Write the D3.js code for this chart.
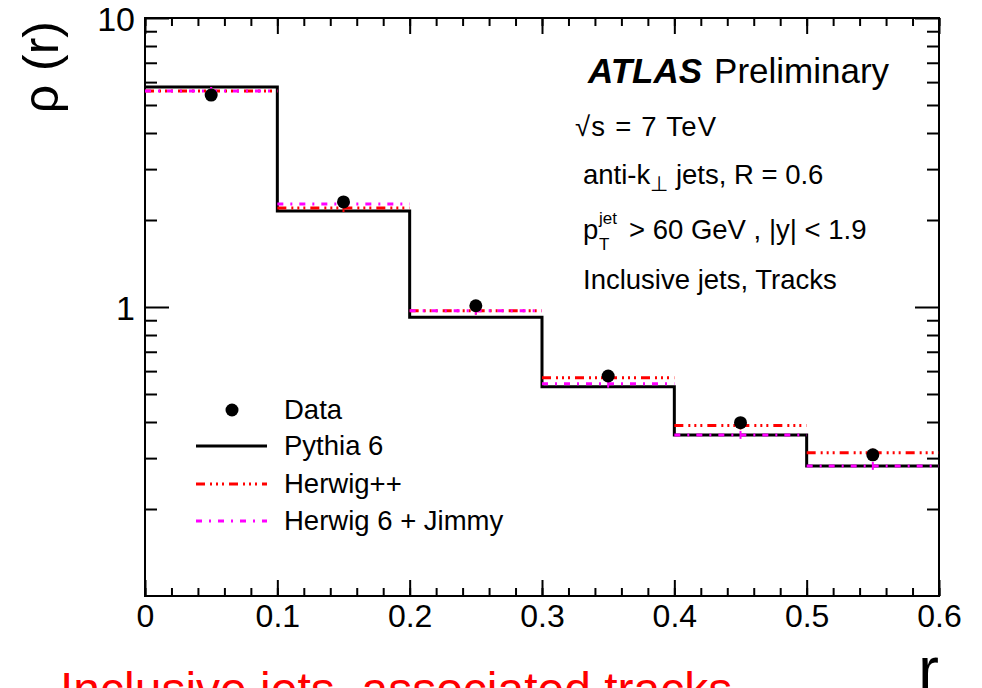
<!DOCTYPE html>
<html lang="en">
	<head>
		<meta charset="utf-8">
		<script src="https://d3js.org/d3.v7.min.js"></script>
		<style>
			body { margin: 0; background: #fff; }
			text { font-family: "Liberation Sans", Arial, sans-serif; fill: #000; }
		</style>
	</head>
	<body>
		<script type="text/javascript">

			//Width and height
			var w = 982;
			var h = 688;

			//Chart data (bins in r, values of rho(r))
			var binEdges = [0, 0.1, 0.2, 0.3, 0.4, 0.5, 0.6];
			var dataVals = [5.41, 2.31, 1.01, 0.577, 0.398, 0.308];
			var pythiaVals = [5.77, 2.15, 0.921, 0.530, 0.361, 0.282];
			var herwigppVals = [5.59, 2.20, 0.971, 0.569, 0.389, 0.313];
			var herwig6Vals = [5.59, 2.27, 0.971, 0.543, 0.361, 0.282];

			//Tick labels
			var xMajor = [0, 0.1, 0.2, 0.3, 0.4, 0.5, 0.6];
			var xMinor = d3.range(0, 61, 2).map(function(d) { return d / 100; });
			var yMajor = [1, 10];
			var yMinor = [0.2, 0.3, 0.4, 0.5, 0.6, 0.7, 0.8, 0.9, 2, 3, 4, 5, 6, 7, 8, 9];

			var legendNames = ["Data", "Pythia 6", "Herwig++", "Herwig 6 + Jimmy"];

			//Frame (plot area)
			var frameL = 145, frameR = 939, frameT = 18, frameB = 596;

			var x = d3.scaleLinear().domain([0, 0.6]).range([frameL, frameR]);
			var y = d3.scaleLog().domain([0.1, 10]).range([frameB, frameT]);

			var svg = d3.select("body")
						.append("svg")
						.attr("width", w)
						.attr("height", h);

			svg.append("rect")
				.attr("width", w)
				.attr("height", h)
				.style("fill", "#fff");

			function styleAxis(g) {
				g.select(".domain").remove();
				g.selectAll(".tick line").style("stroke", "#000").style("stroke-width", 2);
				g.selectAll("text").style("font-family", "Liberation Sans, Arial, sans-serif").style("fill", "#000");
			}

			//Bottom axis
			svg.append("g")
				.attr("transform", "translate(0," + frameB + ")")
				.call(d3.axisBottom(x).tickValues(xMinor).tickSize(-8).tickFormat(""))
				.call(styleAxis);
			svg.append("g")
				.attr("transform", "translate(0," + frameB + ")")
				.call(d3.axisBottom(x).tickValues(xMajor).tickSize(-16).tickPadding(8)
					.tickFormat(function(d) { return d === 0 ? "0" : d3.format(".1f")(d); }))
				.call(styleAxis)
				.selectAll("text").style("font-size", "32px");

			//Top axis
			svg.append("g")
				.attr("transform", "translate(0," + frameT + ")")
				.call(d3.axisTop(x).tickValues(xMinor).tickSize(-8).tickFormat(""))
				.call(styleAxis);
			svg.append("g")
				.attr("transform", "translate(0," + frameT + ")")
				.call(d3.axisTop(x).tickValues(xMajor).tickSize(-16).tickFormat(""))
				.call(styleAxis);

			//Left axis
			svg.append("g")
				.attr("transform", "translate(" + frameL + ",0)")
				.call(d3.axisLeft(y).tickValues(yMinor).tickSize(-12).tickFormat(""))
				.call(styleAxis);
			svg.append("g")
				.attr("transform", "translate(" + frameL + ",0)")
				.call(d3.axisLeft(y).tickValues(yMajor).tickSize(-24).tickPadding(10).tickFormat(d3.format("d")))
				.call(styleAxis)
				.selectAll("text").style("font-size", "34px").attr("dy", "0.36em");

			//Right axis
			svg.append("g")
				.attr("transform", "translate(" + frameR + ",0)")
				.call(d3.axisRight(y).tickValues(yMinor).tickSize(-12).tickFormat(""))
				.call(styleAxis);
			svg.append("g")
				.attr("transform", "translate(" + frameR + ",0)")
				.call(d3.axisRight(y).tickValues(yMajor).tickSize(-24).tickFormat(""))
				.call(styleAxis);

			//Frame box
			svg.append("rect")
				.attr("x", frameL)
				.attr("y", frameT)
				.attr("width", frameR - frameL)
				.attr("height", frameB - frameT)
				.style("fill", "none")
				.style("stroke", "#000")
				.style("stroke-width", 2);

			//Pythia histogram (solid step line)
			var stepPts = pythiaVals.map(function(v, i) { return [binEdges[i], v]; });
			stepPts.push([binEdges[binEdges.length - 1], pythiaVals[pythiaVals.length - 1]]);
			var step = d3.line()
						.x(function(d) { return x(d[0]); })
						.y(function(d) { return y(d[1]); })
						.curve(d3.curveStepAfter);
			svg.append("path")
				.datum(stepPts)
				.attr("d", step)
				.style("fill", "none")
				.style("stroke", "#000")
				.style("stroke-width", 3);

			//MC curves drawn per bin with small error crosses
			function drawMC(vals, color, dash) {
				var g = svg.append("g");
				g.selectAll("line.seg")
					.data(vals)
					.enter()
					.append("line")
					.attr("class", "seg")
					.attr("x1", function(d, i) { return x(binEdges[i]); })
					.attr("x2", function(d, i) { return x(binEdges[i + 1]); })
					.attr("y1", function(d) { return y(d); })
					.attr("y2", function(d) { return y(d); })
					.style("stroke", color)
					.style("stroke-width", 3)
					.style("stroke-dasharray", dash);
				g.selectAll("line.err")
					.data(vals)
					.enter()
					.append("line")
					.attr("class", "err")
					.attr("x1", function(d, i) { return x((binEdges[i] + binEdges[i + 1]) / 2); })
					.attr("x2", function(d, i) { return x((binEdges[i] + binEdges[i + 1]) / 2); })
					.attr("y1", function(d) { return y(d) - 4; })
					.attr("y2", function(d) { return y(d) + 4; })
					.style("stroke", color)
					.style("stroke-width", 2);
			}

			var dashRed = "9,5,2,4,2,4,2,5";
			var dashMag = "6,7,2,7";
			drawMC(herwigppVals, "#ff0000", dashRed);
			drawMC(herwig6Vals, "#ff00ff", dashMag);

			//Data points
			svg.selectAll("circle.data")
				.data(dataVals)
				.enter()
				.append("circle")
				.attr("class", "data")
				.attr("cx", function(d, i) { return x((binEdges[i] + binEdges[i + 1]) / 2); })
				.attr("cy", function(d) { return y(d); })
				.attr("r", 6.5)
				.style("fill", "#000");

			//Legend
			var legY = [410, 446, 484, 521];
			var leg = svg.append("g");
			leg.append("circle").attr("cx", 232).attr("cy", legY[0]).attr("r", 6.5).style("fill", "#000");
			leg.append("line").attr("x1", 196).attr("x2", 267).attr("y1", legY[1]).attr("y2", legY[1])
				.style("stroke", "#000").style("stroke-width", 3);
			leg.append("line").attr("x1", 196).attr("x2", 267).attr("y1", legY[2]).attr("y2", legY[2])
				.style("stroke", "#ff0000").style("stroke-width", 3).style("stroke-dasharray", dashRed);
			leg.append("line").attr("x1", 196).attr("x2", 267).attr("y1", legY[3]).attr("y2", legY[3])
				.style("stroke", "#ff00ff").style("stroke-width", 3).style("stroke-dasharray", dashMag);
			leg.selectAll("text")
				.data(legendNames)
				.enter()
				.append("text")
				.attr("x", 284)
				.attr("y", function(d, i) { return legY[i] - 1; })
				.attr("dy", "0.36em")
				.style("font-size", "27.5px")
				.text(function(d) { return d; });

			//ATLAS label and info text
			var atlas = svg.append("text").attr("x", 588).attr("y", 83).style("font-size", "35px");
			atlas.append("tspan").style("font-weight", "bold").style("font-style", "italic").text("ATLAS");
			atlas.append("tspan").attr("dx", 12).text("Preliminary");

			svg.append("text").attr("x", 575).attr("y", 136).style("font-size", "27.5px").text("\u221As = 7 TeV")
				.attr("textLength", 141);

			var ak = svg.append("text").attr("x", 583).attr("y", 184).style("font-size", "27.5px");
			ak.append("tspan").text("anti-k");
			ak.append("tspan").attr("dy", 7).style("font-size", "21px").text("\u22A5");
			ak.append("tspan").attr("dy", -7).text(" jets, R = 0.6");

			svg.append("text").attr("x", 583).attr("y", 239).style("font-size", "27.5px").text("p");
			svg.append("text").attr("x", 599).attr("y", 224).style("font-size", "17px").text("jet");
			svg.append("text").attr("x", 599).attr("y", 250).style("font-size", "17px").text("T");
			svg.append("text").attr("x", 629).attr("y", 239).style("font-size", "27.5px").text("> 60 GeV , |y| < 1.9");

			svg.append("text").attr("x", 583).attr("y", 289).style("font-size", "27.5px").text("Inclusive jets, Tracks");

			//Axis titles
			svg.append("text")
				.attr("transform", "translate(58,21) rotate(-90)")
				.attr("text-anchor", "end")
				.style("font-size", "50px")
				.text("\u03C1 (r)");

			svg.append("text")
				.attr("x", 939)
				.attr("y", 690)
				.attr("text-anchor", "end")
				.style("font-size", "62px")
				.text("r");

			//Caption below the chart
			svg.append("text")
				.attr("x", 60)
				.attr("y", 706)
				.style("font-size", "48px")
				.style("fill", "#ff0000")
				.text("Inclusive jets, associated tracks");

		</script>
	</body>
</html>
